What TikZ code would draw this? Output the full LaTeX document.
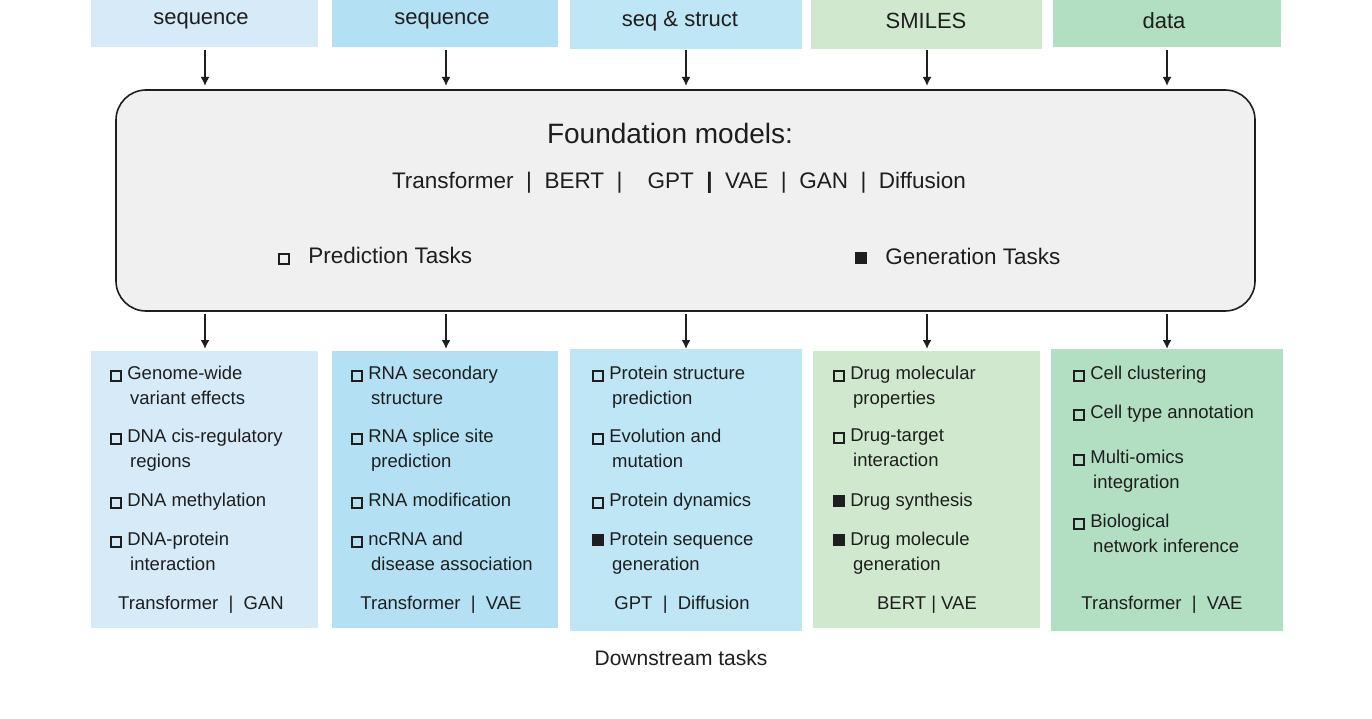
\documentclass[tikz,border=0pt]{standalone}
\usepackage{fontspec}
\setmainfont{Liberation Sans}
\newcommand{\osq}{{\setlength\fboxsep{0pt}\setlength\fboxrule{2pt}\fbox{\rule{0pt}{8pt}\hspace{8pt}}}}
\newcommand{\fsq}{\rule{12pt}{12pt}}
\definecolor{cA}{RGB}{214,234,248}
\definecolor{cB}{RGB}{179,225,243}
\definecolor{cC}{RGB}{190,230,245}
\definecolor{cD}{RGB}{208,233,206}
\definecolor{cE}{RGB}{178,222,194}
\definecolor{tx}{RGB}{30,30,30}
\begin{document}
\begin{tikzpicture}[x=1pt,y=-1pt,
  arr/.style={line width=2.2pt,-{Latex[length=9pt,width=9pt]},tx},
  top/.style={font=\fontsize{22}{26}\selectfont,text=tx},
  item/.style={anchor=north west,align=left,font=\fontsize{18.5}{24.5}\selectfont,text=tx,inner sep=0pt},
  foot/.style={font=\fontsize{18.5}{22}\selectfont,text=tx}]
\useasboundingbox (0,0) rectangle (1372,719);
\usetikzlibrary{arrows.meta}
% top boxes
\fill[cA] (91,-5) rectangle (318,47);
\fill[cB] (332,-5) rectangle (558,47);
\fill[cC] (570,-5) rectangle (802,49);
\fill[cD] (811,-5) rectangle (1042,49);
\fill[cE] (1053,-5) rectangle (1281,47);
\node[top] (t1) at (201,21) {sequence};
\node[top] (t2) at (442,21) {sequence};
\node[top] (t3) at (680,21) {seq \& struct};
\node[top] (t4) at (926,21) {SMILES};
\node[top] (t5) at (1164,21) {data};
% main box
\draw[line width=1.6pt,draw=tx,fill={rgb,255:red,240;green,240;blue,240},rounded corners=30pt] (116,90) rectangle (1255,311);
\node[text=tx,font=\fontsize{28}{32}\selectfont] (fm) at (670,133) {Foundation models:};
\node[text=tx,font=\fontsize{22.5}{26}\selectfont] (ml) at (679,183) {Transformer\ \ |\ \ BERT\ \ |\ \ \ \ GPT\ \ \textbf{|}\ \ VAE\ \ |\ \ GAN\ \ |\ \ Diffusion};
\node[text=tx,font=\fontsize{22.5}{26}\selectfont,anchor=west] (pt) at (274,256) {\osq\ \ \ Prediction Tasks};
\node[text=tx,font=\fontsize{22.5}{26}\selectfont,anchor=west] (gt) at (851,256) {\fsq\ \ \ Generation Tasks};
% arrows
\foreach \x in {205,446,686,927,1167}{
  \coordinate (a\x) at (\x,50); \coordinate (b\x) at (\x,86);
  \coordinate (c\x) at (\x,314); \coordinate (d\x) at (\x,349);
  \draw[arr] (a\x) -- (b\x); \draw[arr] (c\x) -- (d\x);}
% bottom boxes
\fill[cA] (91,351) rectangle (318,628);
\fill[cB] (332,351) rectangle (558,628);
\fill[cC] (570,349) rectangle (802,631);
\fill[cD] (813,351) rectangle (1040,628);
\fill[cE] (1051,349) rectangle (1283,631);
\def\pos{{366,429,493,532}}
% box1
\node[item] (i11) at (110,366) {\osq\ Genome-wide\\\hspace*{20pt}variant effects};
\node[item] (i12) at (110,429) {\osq\ DNA cis-regulatory\\\hspace*{20pt}regions};
\node[item] (i13) at (110,493) {\osq\ DNA methylation};
\node[item] (i14) at (110,532) {\osq\ DNA-protein\\\hspace*{20pt}interaction};
\node[foot] (f1) at (201,605) {Transformer\ \ |\ \ GAN};
% box2
\node[item] (i21) at (351,366) {\osq\ RNA secondary\\\hspace*{20pt}structure};
\node[item] (i22) at (351,429) {\osq\ RNA splice site\\\hspace*{20pt}prediction};
\node[item] (i23) at (351,493) {\osq\ RNA modification};
\node[item] (i24) at (351,532) {\osq\ ncRNA and\\\hspace*{20pt}disease association};
\node[foot] (f2) at (441,605) {Transformer\ \ |\ \ VAE};
% box3
\node[item] (i31) at (592,366) {\osq\ Protein structure\\\hspace*{20pt}prediction};
\node[item] (i32) at (592,429) {\osq\ Evolution and\\\hspace*{20pt}mutation};
\node[item] (i33) at (592,493) {\osq\ Protein dynamics};
\node[item] (i34) at (592,532) {\fsq\ Protein sequence\\\hspace*{20pt}generation};
\node[foot] (f3) at (682,605) {GPT\ \ |\ \ Diffusion};
% box4
\node[item] (i41) at (833,366) {\osq\ Drug molecular\\\hspace*{20pt}properties};
\node[item] (i42) at (833,429) {\osq\ Drug-target\\\hspace*{20pt}interaction};
\node[item] (i43) at (833,493) {\fsq\ Drug synthesis};
\node[item] (i44) at (833,532) {\fsq\ Drug molecule\\\hspace*{20pt}generation};
\node[foot] (f4) at (927,605) {BERT | VAE};
% box5
\node[item] (i51) at (1073,366) {\osq\ Cell clustering};
\node[item] (i52) at (1073,405) {\osq\ Cell type annotation};
\node[item] (i53) at (1073,450) {\osq\ Multi-omics\\\hspace*{20pt}integration};
\node[item] (i54) at (1073,514) {\osq\ Biological\\\hspace*{20pt}network inference};
\node[foot] (f5) at (1162,605) {Transformer\ \ |\ \ VAE};
\node[text=tx,font=\fontsize{21}{24}\selectfont] (ds) at (681,658) {Downstream tasks};
\end{tikzpicture}
\end{document}
